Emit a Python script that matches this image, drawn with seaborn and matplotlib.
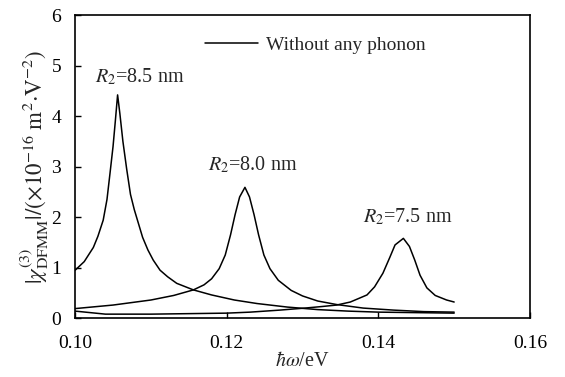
import numpy as np
import pandas as pd
import matplotlib
matplotlib.use("Agg")
import matplotlib.pyplot as plt
import seaborn as sns

# --- data (photon energy in eV, |chi| in 1e-16 m^2 V^-2) ---
x_85 = [0.1000, 0.1012, 0.1024, 0.1030, 0.1037, 0.1042, 0.1046, 0.1050, 0.1053, 0.1056,
        0.1059, 0.1063, 0.1068, 0.1073, 0.1078, 0.1083, 0.1089, 0.1096, 0.1103, 0.1112,
        0.1122, 0.1134, 0.1156, 0.1180, 0.1210, 0.1240, 0.1280, 0.1320, 0.1360, 0.1400,
        0.1450, 0.1500]
y_85 = [0.95, 1.12, 1.40, 1.62, 1.94, 2.35, 2.87, 3.40, 3.90, 4.42,
        4.05, 3.50, 2.95, 2.45, 2.15, 1.90, 1.60, 1.35, 1.15, 0.95,
        0.82, 0.69, 0.56, 0.46, 0.36, 0.29, 0.22, 0.17, 0.14, 0.12,
        0.11, 0.10]

x_80 = [0.1000, 0.1050, 0.1100, 0.1130, 0.1156, 0.1170, 0.1180, 0.1190, 0.1198, 0.1205,
        0.1211, 0.1217, 0.1224, 0.1230, 0.1236, 0.1242, 0.1249, 0.1257, 0.1268, 0.1285,
        0.1300, 0.1320, 0.1345, 0.1380, 0.1420, 0.1460, 0.1500]
y_80 = [0.19, 0.26, 0.36, 0.45, 0.56, 0.66, 0.78, 0.98, 1.25, 1.65,
        2.05, 2.40, 2.59, 2.40, 2.05, 1.65, 1.25, 0.98, 0.75, 0.55,
        0.44, 0.34, 0.27, 0.20, 0.16, 0.13, 0.12]

x_75 = [0.1000, 0.1040, 0.1100, 0.1150, 0.1200, 0.1231, 0.1270, 0.1303, 0.1325, 0.1345,
        0.1363, 0.1385, 0.1395, 0.1406, 0.1415, 0.1422, 0.1433, 0.1441, 0.1448, 0.1455,
        0.1464, 0.1475, 0.1490, 0.1500]
y_75 = [0.14, 0.08, 0.08, 0.09, 0.10, 0.12, 0.16, 0.20, 0.23, 0.26,
        0.32, 0.46, 0.62, 0.89, 1.20, 1.45, 1.58, 1.42, 1.15, 0.85,
        0.60, 0.45, 0.36, 0.32]

labels = ['$R_2$=8.5 nm', '$R_2$=8.0 nm', '$R_2$=7.5 nm']
label_pos = [(0.1026, 4.78), (0.11755, 3.03), (0.1380, 2.00)]
x_ticks = [0.10, 0.12, 0.14, 0.16]
y_ticks = [0, 1, 2, 3, 4, 5, 6]

df = pd.concat([
    pd.DataFrame({'x': x_85, 'y': y_85, 'R2': '8.5'}),
    pd.DataFrame({'x': x_80, 'y': y_80, 'R2': '8.0'}),
    pd.DataFrame({'x': x_75, 'y': y_75, 'R2': '7.5'}),
])

sns.set_theme(style='ticks')
plt.rcParams['font.family'] = ['Liberation Serif', 'DejaVu Serif']
plt.rcParams['mathtext.fontset'] = 'stix'

fig, ax = plt.subplots(figsize=(5.65, 3.77), dpi=100)
fig.subplots_adjust(left=0.133, right=0.938, top=0.960, bottom=0.156)

for i, (key, grp) in enumerate(df.groupby('R2', sort=False)):
    sns.lineplot(data=grp, x='x', y='y', ax=ax, color='black', linewidth=1.1,
                 sort=False, estimator=None,
                 label='Without any phonon' if i == 0 else None, legend=False)

for txt, (tx, ty) in zip(labels, label_pos):
    ax.text(tx, ty, txt, ha='left', va='center', fontsize=14.5)

ax.set_xlim(0.10, 0.16)
ax.set_ylim(0, 6)
ax.set_xticks(x_ticks)
ax.set_xticklabels([f'{v:.2f}' for v in x_ticks])
ax.set_yticks(y_ticks)
ax.tick_params(direction='in', length=4, width=1, colors='black', labelsize=14)
ax.tick_params(axis='x', pad=12)
ax.tick_params(axis='y', pad=10)
for s in ax.spines.values():
    s.set_visible(True)
    s.set_linewidth(1.2)
    s.set_color('black')

ax.set_xlabel(r'$\hbar\omega$/eV', fontsize=14.5, labelpad=0)
ax.set_ylabel(r'$|\chi^{(3)}_{\mathrm{DFMM}}|/(\times10^{-16}\ \mathrm{m^2{\cdot}V^{-2}})$',
              fontsize=16.5, labelpad=0)

handles, _ = ax.get_legend_handles_labels()
ax.legend(handles[:1], ['Without any phonon'], loc='center left',
          bbox_to_anchor=(0.286, 0.90), frameon=False, fontsize=14,
          borderpad=0, borderaxespad=0, handlelength=2.7, handletextpad=0.4)

fig.savefig('out.png', dpi=100)
